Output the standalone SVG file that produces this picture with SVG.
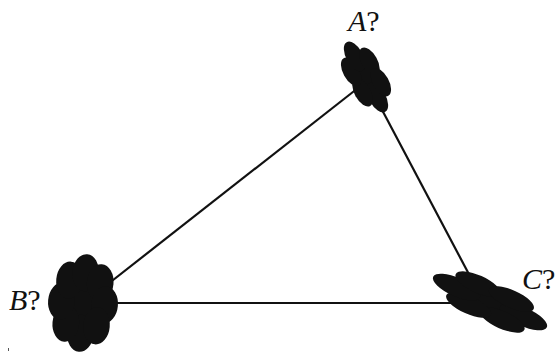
<svg xmlns="http://www.w3.org/2000/svg" width="557" height="353" viewBox="0 0 557 353">
<style>
.edge{stroke:#111;stroke-width:2.2;fill:none}
.blob{fill:#111}
.lbl{font-family:"Liberation Serif","Times New Roman",serif;font-size:30px;fill:#111}
.it{font-style:italic}
</style>
<defs>
<g id="flower6">
<circle r="0.74"/>
<circle cx="0.6" cy="0" r="0.42"/>
<circle cx="0.3" cy="0.52" r="0.4"/>
<circle cx="-0.3" cy="0.52" r="0.4"/>
<circle cx="-0.6" cy="0" r="0.42"/>
<circle cx="-0.3" cy="-0.52" r="0.4"/>
<circle cx="0.3" cy="-0.52" r="0.4"/>
</g>
<g id="flower8">
<circle r="0.76"/>
<circle cx="0.62" cy="0" r="0.38"/>
<circle cx="0.44" cy="0.44" r="0.38"/>
<circle cx="0" cy="0.62" r="0.38"/>
<circle cx="-0.44" cy="0.44" r="0.38"/>
<circle cx="-0.62" cy="0" r="0.38"/>
<circle cx="-0.44" cy="-0.44" r="0.38"/>
<circle cx="0" cy="-0.62" r="0.38"/>
<circle cx="0.44" cy="-0.44" r="0.38"/>
</g>
</defs>
<g id="connectors">
<line class="edge" x1="108" y1="284" x2="358" y2="88"/>
<line class="edge" x1="380" y1="106" x2="472" y2="280"/>
<line class="edge" x1="110" y1="303" x2="470" y2="303"/>
</g>
<g id="nodeA">
<use href="#flower6" class="blob" transform="translate(366,77) rotate(61) scale(39,20)"/>
<text class="lbl" x="348" y="31"><tspan class="it">A</tspan>?</text>
</g>
<g id="nodeB">
<use href="#flower8" class="blob" transform="translate(83,303) rotate(95) scale(49,35)"/>
<text class="lbl" x="9" y="310"><tspan class="it">B</tspan>?</text>
</g>
<g id="nodeC">
<use href="#flower6" class="blob" transform="translate(490,302) rotate(24) scale(61,22)"/>
<text class="lbl" x="522" y="289"><tspan class="it">C</tspan>?</text>
</g>
<rect x="8" y="348" width="1" height="3" fill="#555"/>
</svg>
